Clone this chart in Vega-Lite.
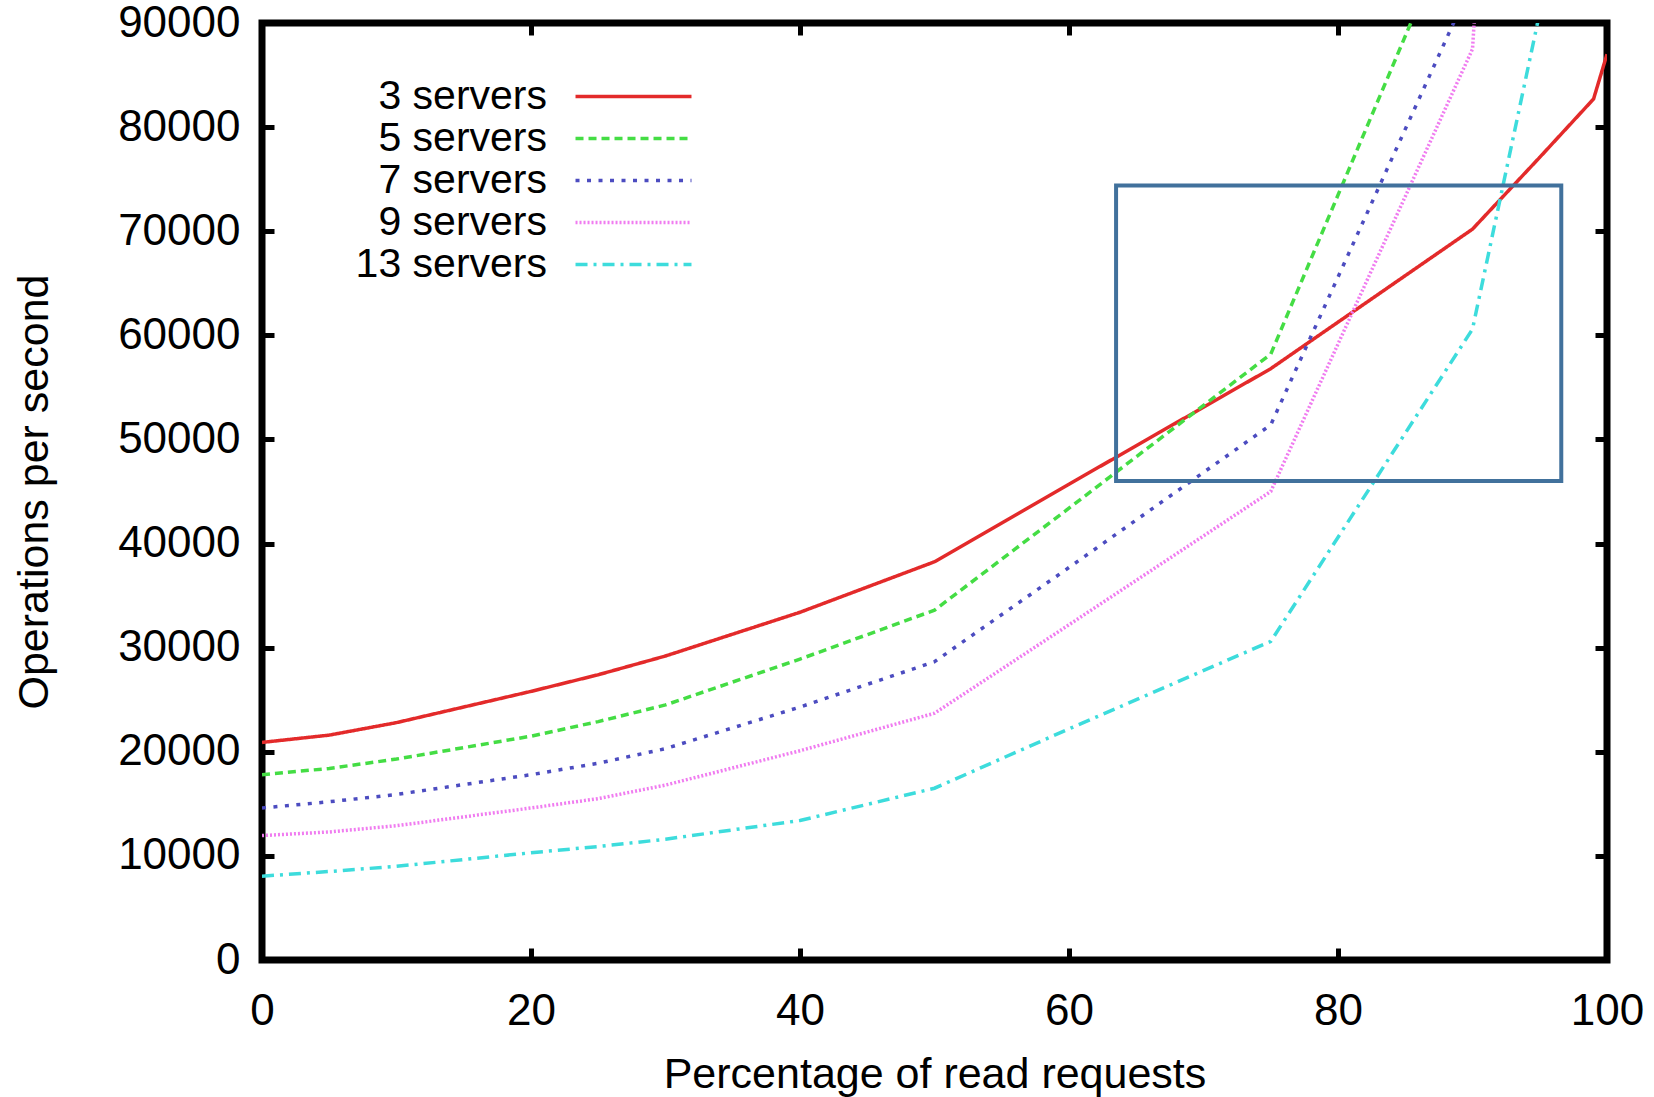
{
  "$schema": "https://vega.github.io/schema/vega-lite/v6.json",
  "width": 1345,
  "height": 937,
  "autosize": "none",
  "padding": {"left": 262, "top": 23, "right": 47, "bottom": 137},
  "background": "white",
  "config": {
    "font": "Liberation Sans",
    "view": {"stroke": "black", "strokeWidth": 7},
    "axis": {
      "labelFont": "Liberation Sans",
      "titleFont": "Liberation Sans",
      "labelFontSize": 44,
      "titleFontSize": 43,
      "labelColor": "black",
      "titleColor": "black",
      "titleFontWeight": "normal",
      "grid": false,
      "domain": false,
      "tickColor": "black",
      "tickWidth": 5,
      "tickSize": -12,
      "labelFlush": false,
      "labelOverlap": false
    },
    "legend": {
      "labelFont": "Liberation Sans",
      "labelFontSize": 41,
      "labelColor": "black",
      "labelLimit": 500,
      "labelAlign": "right",
      "labelOffset": -107,
      "symbolType": "M-5,0H5",
      "symbolSize": 538,
      "symbolStrokeWidth": 3.5,
      "rowPadding": 0,
      "padding": 0
    }
  },
  "datasets": {
    "series": [
      {"read_pct": 0, "servers": "3 servers", "ops": 20900},
      {"read_pct": 5, "servers": "3 servers", "ops": 21600},
      {"read_pct": 10, "servers": "3 servers", "ops": 22800},
      {"read_pct": 20, "servers": "3 servers", "ops": 25800},
      {"read_pct": 25, "servers": "3 servers", "ops": 27400},
      {"read_pct": 30, "servers": "3 servers", "ops": 29200},
      {"read_pct": 40, "servers": "3 servers", "ops": 33400},
      {"read_pct": 50, "servers": "3 servers", "ops": 38250},
      {"read_pct": 60, "servers": "3 servers", "ops": 45700},
      {"read_pct": 75, "servers": "3 servers", "ops": 56800},
      {"read_pct": 90, "servers": "3 servers", "ops": 70200},
      {"read_pct": 95, "servers": "3 servers", "ops": 77100},
      {"read_pct": 99, "servers": "3 servers", "ops": 82700},
      {"read_pct": 100, "servers": "3 servers", "ops": 87000},

      {"read_pct": 0, "servers": "5 servers", "ops": 17800},
      {"read_pct": 5, "servers": "5 servers", "ops": 18400},
      {"read_pct": 10, "servers": "5 servers", "ops": 19300},
      {"read_pct": 20, "servers": "5 servers", "ops": 21500},
      {"read_pct": 25, "servers": "5 servers", "ops": 22900},
      {"read_pct": 30, "servers": "5 servers", "ops": 24500},
      {"read_pct": 40, "servers": "5 servers", "ops": 28900},
      {"read_pct": 50, "servers": "5 servers", "ops": 33600},
      {"read_pct": 60, "servers": "5 servers", "ops": 43400},
      {"read_pct": 75, "servers": "5 servers", "ops": 58200},
      {"read_pct": 90, "servers": "5 servers", "ops": 104000},
      {"read_pct": 95, "servers": "5 servers", "ops": 130000},
      {"read_pct": 99, "servers": "5 servers", "ops": 155000},
      {"read_pct": 100, "servers": "5 servers", "ops": 165000},

      {"read_pct": 0, "servers": "7 servers", "ops": 14600},
      {"read_pct": 5, "servers": "7 servers", "ops": 15200},
      {"read_pct": 10, "servers": "7 servers", "ops": 15900},
      {"read_pct": 20, "servers": "7 servers", "ops": 17800},
      {"read_pct": 25, "servers": "7 servers", "ops": 18900},
      {"read_pct": 30, "servers": "7 servers", "ops": 20300},
      {"read_pct": 40, "servers": "7 servers", "ops": 24300},
      {"read_pct": 50, "servers": "7 servers", "ops": 28650},
      {"read_pct": 60, "servers": "7 servers", "ops": 37700},
      {"read_pct": 75, "servers": "7 servers", "ops": 51400},
      {"read_pct": 90, "servers": "7 servers", "ops": 94000},
      {"read_pct": 95, "servers": "7 servers", "ops": 150000},
      {"read_pct": 99, "servers": "7 servers", "ops": 230000},
      {"read_pct": 100, "servers": "7 servers", "ops": 257000},

      {"read_pct": 0, "servers": "9 servers", "ops": 11950},
      {"read_pct": 5, "servers": "9 servers", "ops": 12300},
      {"read_pct": 10, "servers": "9 servers", "ops": 12900},
      {"read_pct": 20, "servers": "9 servers", "ops": 14600},
      {"read_pct": 25, "servers": "9 servers", "ops": 15500},
      {"read_pct": 30, "servers": "9 servers", "ops": 16800},
      {"read_pct": 40, "servers": "9 servers", "ops": 20100},
      {"read_pct": 50, "servers": "9 servers", "ops": 23700},
      {"read_pct": 60, "servers": "9 servers", "ops": 32200},
      {"read_pct": 75, "servers": "9 servers", "ops": 45000},
      {"read_pct": 90, "servers": "9 servers", "ops": 87500},
      {"read_pct": 95, "servers": "9 servers", "ops": 190000},
      {"read_pct": 99, "servers": "9 servers", "ops": 275000},
      {"read_pct": 100, "servers": "9 servers", "ops": 296000},

      {"read_pct": 0, "servers": "13 servers", "ops": 8050},
      {"read_pct": 5, "servers": "13 servers", "ops": 8500},
      {"read_pct": 10, "servers": "13 servers", "ops": 9000},
      {"read_pct": 20, "servers": "13 servers", "ops": 10300},
      {"read_pct": 25, "servers": "13 servers", "ops": 10900},
      {"read_pct": 30, "servers": "13 servers", "ops": 11600},
      {"read_pct": 40, "servers": "13 servers", "ops": 13400},
      {"read_pct": 50, "servers": "13 servers", "ops": 16500},
      {"read_pct": 60, "servers": "13 servers", "ops": 22200},
      {"read_pct": 75, "servers": "13 servers", "ops": 30600},
      {"read_pct": 90, "servers": "13 servers", "ops": 60600},
      {"read_pct": 95, "servers": "13 servers", "ops": 91000},
      {"read_pct": 99, "servers": "13 servers", "ops": 300000},
      {"read_pct": 100, "servers": "13 servers", "ops": 460000}
    ],
    "highlight": [
      {"from_pct": 63.5, "to_pct": 96.6, "ops_low": 46000, "ops_high": 74400}
    ]
  },
  "layer": [
    {
      "data": {"name": "series"},
      "mark": {"type": "line", "clip": true, "strokeWidth": 3.5},
      "encoding": {
        "x": {
          "field": "read_pct",
          "type": "quantitative",
          "scale": {"domain": [0, 100], "nice": false, "zero": false},
          "axis": {
            "orient": "bottom",
            "values": [0, 20, 40, 60, 80, 100],
            "title": "Percentage of read requests",
            "labelPadding": 41,
            "titlePadding": 20
          }
        },
        "y": {
          "field": "ops",
          "type": "quantitative",
          "scale": {"domain": [0, 90000], "nice": false},
          "axis": {
            "orient": "left",
            "values": [0, 10000, 20000, 30000, 40000, 50000, 60000, 70000, 80000, 90000],
            "format": "d",
            "title": "Operations per second",
            "labelPadding": 34,
            "titlePadding": 61
          }
        },
        "color": {
          "field": "servers",
          "type": "nominal",
          "scale": {
            "domain": ["3 servers", "5 servers", "7 servers", "9 servers", "13 servers"],
            "range": ["#e32a2a", "#44dd44", "#4c4cc0", "#f07cf0", "#3ddcdc"]
          },
          "legend": {"title": null, "orient": "none", "legendX": 351, "legendY": 53}
        },
        "strokeDash": {
          "field": "servers",
          "type": "nominal",
          "scale": {
            "domain": ["3 servers", "5 servers", "7 servers", "9 servers", "13 servers"],
            "range": [[1, 0], [8, 5], [4, 7.5], [2, 2], [12, 6, 3, 6]]
          },
          "legend": {"title": null, "orient": "none", "legendX": 351, "legendY": 53}
        }
      }
    },
    {
      "data": {"name": "highlight"},
      "mark": {"type": "rect", "fill": null, "fillOpacity": 0, "stroke": "#41719c", "strokeWidth": 4},
      "encoding": {
        "x": {
          "field": "from_pct",
          "type": "quantitative",
          "scale": {"domain": [0, 100], "nice": false, "zero": false},
          "axis": {"orient": "top", "values": [0, 20, 40, 60, 80, 100], "labels": false, "title": null}
        },
        "x2": {"field": "to_pct"},
        "y": {
          "field": "ops_high",
          "type": "quantitative",
          "scale": {"domain": [0, 90000], "nice": false},
          "axis": {"orient": "right", "values": [0, 10000, 20000, 30000, 40000, 50000, 60000, 70000, 80000, 90000], "labels": false, "title": null}
        },
        "y2": {"field": "ops_low"}
      }
    }
  ],
  "resolve": {"axis": {"x": "independent", "y": "independent"}}
}
